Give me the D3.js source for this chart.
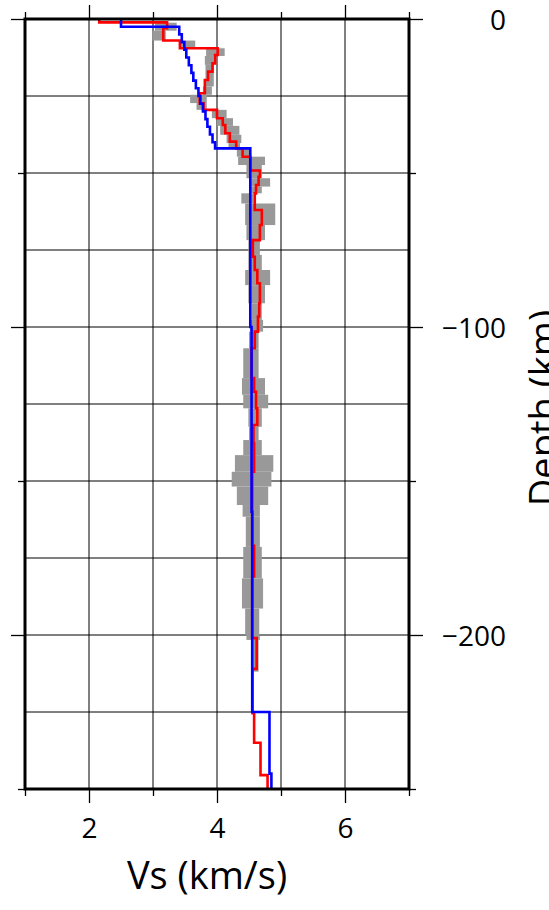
<!DOCTYPE html>
<html>
<head>
<meta charset="utf-8">
<script src="https://cdn.jsdelivr.net/npm/d3@7"></script>
<style>
  html, body { margin: 0; padding: 0; background: #fff; }
  svg { display: block; }
  text { font-family: "Open Sans", "Noto Sans", sans-serif; fill: #000; }
</style>
</head>
<body>
<svg id="chart" width="549" height="910"></svg>
<script>
// ---------------- DATA ----------------
const xMajorTicks = [2, 4, 6];
const xMinorTicks = [1, 3, 5, 7];
const yMajorTicks = [0, -100, -200];
const yMinorTicks = [-50, -150, -250];
const xTitle = "Vs (km/s)";
const yTitle = "Depth (km)";

// Reference model (blue): layer top depth (km) and Vs (km/s)
const blueDepth = [0, 2.5, 5, 7.5, 10, 12.5, 15, 17.5, 20, 22.5, 25, 27.5, 30, 32.5, 35, 37.5, 40, 42, 100, 160, 225, 245];
const blueVs    = [2.50, 3.41, 3.45, 3.49, 3.52, 3.56, 3.60, 3.63, 3.67, 3.71, 3.74, 3.78, 3.82, 3.85, 3.89, 3.93, 3.97, 4.52, 4.54, 4.55, 4.82, 4.85];

// Inverted model (red): layer top depth (km) and Vs (km/s)
const redDepth = [0, 1.1, 3.0, 7.0, 9.5, 11.7, 14.4, 17.1, 19.8, 24.1, 27.4, 29.5, 32.2, 34.4, 37.1, 39.8, 42.0, 44.7, 49.2, 51.2, 53.9, 56.6, 62.0, 66.9, 71.8, 77.2, 81.5, 85.8, 92.3, 96.6, 101.5, 106.9, 116.6, 121.0, 126.4, 131.8, 137.8, 147.0, 171.0, 181.0, 201.0, 211.0, 225.4, 235.0, 245.5];
const redVs    = [2.16, 3.22, 3.16, 3.42, 4.01, 3.97, 3.93, 3.86, 3.81, 3.73, 3.79, 4.00, 4.09, 4.13, 4.20, 4.30, 4.40, 4.52, 4.67, 4.65, 4.61, 4.59, 4.70, 4.67, 4.56, 4.59, 4.63, 4.67, 4.66, 4.64, 4.59, 4.54, 4.58, 4.61, 4.63, 4.57, 4.58, 4.55, 4.58, 4.55, 4.62, 4.555, 4.58, 4.68, 4.79];
const bottomDepth = 250;

// Uncertainty band (gray): depth top, depth bottom, Vs min, Vs max
const bandTop = [1.2, 3.8, 7.0, 9.5, 12.0, 14.9, 21.9, 24.6, 27.3, 29.5, 32.2, 34.7, 37.6, 40.3, 42.0, 44.7, 47.4, 51.7, 54.4, 56.6, 59.9, 66.9, 71.8, 76.6, 81.5, 86.4, 92.3, 97.7, 101.5, 106.9, 116.6, 122.0, 126.4, 132.4, 136.7, 141.6, 147.0, 151.8, 157.8, 161.6, 171.4, 181.6, 191.4, 200.0, 201.6];
const bandBot = [3.8, 7.0, 9.5, 12.0, 14.9, 21.9, 24.6, 27.3, 29.5, 32.2, 34.7, 37.6, 40.3, 42.0, 44.7, 47.4, 51.7, 54.4, 56.6, 59.9, 66.9, 71.8, 76.6, 81.5, 86.4, 92.3, 97.7, 101.5, 106.9, 116.6, 122.0, 126.4, 132.4, 136.7, 141.6, 147.0, 151.8, 157.8, 161.6, 171.4, 181.6, 191.4, 200.0, 201.6, 211.9];
const bandMin = [3.03, 2.99, 3.42, 3.83, 3.81, 3.82, 3.78, 3.58, 3.68, 3.92, 4.00, 4.05, 4.15, 4.18, 4.31, 4.33, 4.46, 4.52, 4.50, 4.38, 4.44, 4.46, 4.49, 4.49, 4.44, 4.49, 4.54, 4.52, 4.50, 4.41, 4.39, 4.41, 4.49, 4.50, 4.41, 4.28, 4.23, 4.31, 4.40, 4.45, 4.41, 4.39, 4.44, 4.46, 4.54];
const bandMax = [3.37, 3.20, 3.66, 4.12, 3.95, 3.95, 3.92, 3.84, 3.84, 4.15, 4.25, 4.35, 4.38, 4.36, 4.52, 4.75, 4.70, 4.83, 4.70, 4.57, 4.91, 4.75, 4.67, 4.70, 4.83, 4.75, 4.70, 4.72, 4.65, 4.65, 4.75, 4.80, 4.70, 4.65, 4.70, 4.88, 4.85, 4.80, 4.67, 4.67, 4.70, 4.72, 4.66, 4.67, 4.65];

// ---------------- CHART ----------------
const svg = d3.select("#chart");
const L = 25, R = 409, T = 19, B = 789;

const x = d3.scaleLinear().domain([1, 7]).range([L, R]);
const y = d3.scaleLinear().domain([0, -250]).range([T, B]);
const fmt = d3.format("d");

// grid
const grid = svg.append("g");
grid.selectAll("line.v").data(d3.range(1, 8)).join("line")
  .attr("x1", d => x(d)).attr("x2", d => x(d))
  .attr("y1", T).attr("y2", B)
  .attr("stroke", "#000").attr("stroke-width", 1);
grid.selectAll("line.h").data(d3.range(0, -251, -25)).join("line")
  .attr("x1", L).attr("x2", R)
  .attr("y1", d => y(d)).attr("y2", d => y(d))
  .attr("stroke", "#000").attr("stroke-width", 1);

// gray band
svg.append("g").selectAll("rect").data(bandTop.map((t, i) => ({t, b: bandBot[i], lo: bandMin[i], hi: bandMax[i]})))
  .join("rect")
  .attr("x", d => x(d.lo)).attr("width", d => x(d.hi) - x(d.lo))
  .attr("y", d => y(-d.t)).attr("height", d => y(-d.b) - y(-d.t))
  .attr("fill", "#999999");

function stepPoints(depths, vs) {
  const pts = [];
  depths.forEach((d, i) => {
    const next = i < depths.length - 1 ? depths[i + 1] : bottomDepth;
    pts.push([vs[i], -d]);
    pts.push([vs[i], -next]);
  });
  return pts;
}
const line = d3.line().x(d => x(d[0])).y(d => y(d[1]));

svg.append("path").datum(stepPoints(redDepth, redVs))
  .attr("d", line).attr("fill", "none").attr("stroke", "#ff0000").attr("stroke-width", 2.6);
svg.append("path").datum(stepPoints(blueDepth, blueVs))
  .attr("d", line).attr("fill", "none").attr("stroke", "#0000ff").attr("stroke-width", 2.6);

// axes ticks
function addAxis(axisFn, scale, vals, size, transform, labels) {
  const g = svg.append("g").attr("transform", transform)
    .call(axisFn(scale).tickValues(vals).tickSize(size).tickSizeOuter(0).tickFormat(labels ? fmt : ""));
  g.select(".domain").remove();
  g.selectAll(".tick line").attr("stroke", "#000").attr("stroke-width", 1.3);
  return g;
}
// bottom
const gb = addAxis(d3.axisBottom, x, xMajorTicks, 14, `translate(0,${B})`, true);
gb.selectAll(".tick text").attr("y", 49).attr("dy", null).style("font-size", "28px").attr("fill", "#000");
addAxis(d3.axisBottom, x, xMinorTicks, 7, `translate(0,${B})`, false);
// top
addAxis(d3.axisTop, x, xMajorTicks, 14, `translate(0,${T})`, false);
addAxis(d3.axisTop, x, xMinorTicks, 7, `translate(0,${T})`, false);
// left
addAxis(d3.axisLeft, y, yMajorTicks, 14, `translate(${L},0)`, false);
addAxis(d3.axisLeft, y, yMinorTicks, 7, `translate(${L},0)`, false);
// right
const gr = addAxis(d3.axisRight, y, yMajorTicks, 14, `translate(${R},0)`, true);
gr.selectAll(".tick text").attr("x", 97).attr("dy", "0.36em").attr("text-anchor", "end")
  .style("font-size", "28px").attr("fill", "#000");
addAxis(d3.axisRight, y, yMinorTicks, 7, `translate(${R},0)`, false);

// frame
svg.append("rect").attr("x", L).attr("y", T).attr("width", R - L).attr("height", B - T)
  .attr("fill", "none").attr("stroke", "#000").attr("stroke-width", 3);

// titles
svg.append("text").attr("x", 207).attr("y", 889).attr("text-anchor", "middle")
  .style("font-size", "38px").text(xTitle);
svg.append("text").attr("transform", `translate(557,408) rotate(-90)`).attr("text-anchor", "middle")
  .style("font-size", "38px").text(yTitle);
</script>
</body>
</html>
